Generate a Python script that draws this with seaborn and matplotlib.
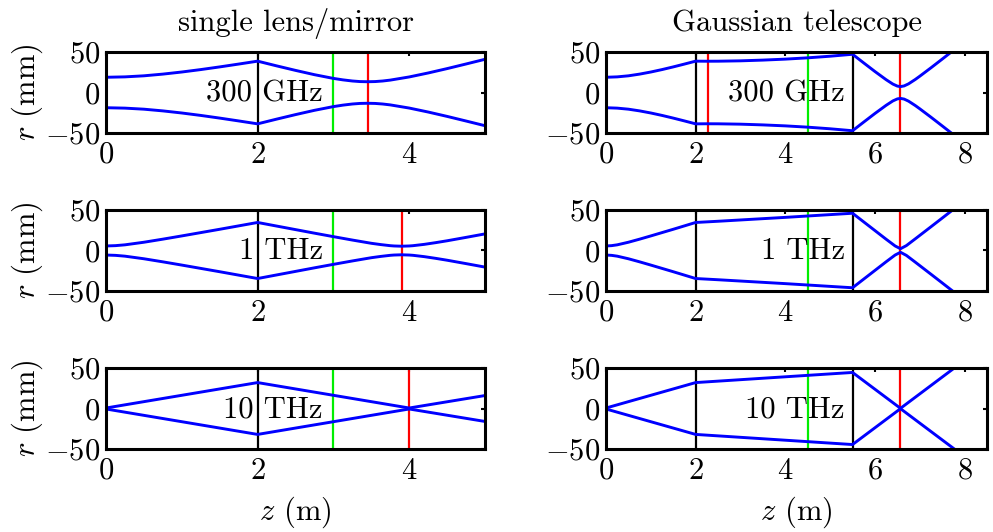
import matplotlib
matplotlib.use("Agg")
import matplotlib.pyplot as plt
from matplotlib.ticker import FuncFormatter
import seaborn as sns
import pandas as pd

# ---- beam radius r (mm) versus distance z (m) -------------------------------
# single lens/mirror: lens at z = 2 m
z_single_300g = [0.0, 0.25, 0.5, 0.75, 1.0, 1.25, 1.5, 1.75, 2.0,
                 2.25, 2.5, 2.75, 3.0, 3.125, 3.25, 3.35, 3.45, 3.55, 3.65,
                 3.75, 4.0, 4.25, 4.5, 4.75, 5.0]
r_single_300g = [18.8, 19.3, 20.6, 22.7, 25.3, 28.3, 31.6, 35.1, 38.7,
                 32.9, 27.3, 22.0, 17.4, 15.6, 14.2, 13.5, 13.3, 13.5, 14.2,
                 15.3, 19.2, 24.1, 29.5, 35.2, 41.0]

z_single_1t = [0.0, 0.125, 0.25, 0.5, 0.75, 1.0, 1.25, 1.5, 1.75, 2.0,
               2.25, 2.5, 2.75, 3.0, 3.25, 3.5, 3.625, 3.75, 3.8, 3.9, 4.0,
               4.05, 4.2, 4.35, 4.5, 4.75, 5.0]
r_single_1t = [5.6, 6.0, 7.0, 10.2, 14.0, 18.0, 22.1, 26.2, 30.4, 34.6,
               30.2, 25.8, 21.4, 17.1, 12.9, 8.9, 7.3, 5.95, 5.6, 5.3, 5.6,
               5.95, 7.6, 9.7, 12.0, 16.2, 20.5]

z_single_10t = [0.0, 2.0, 4.0, 5.0]
r_single_10t = [0.6, 32.0, 0.6, 16.0]

# Gaussian telescope: lenses at z = 2 m and z = 5.5 m
z_tele_300g = [0.0, 0.25, 0.5, 0.75, 1.0, 1.25, 1.5, 1.75, 2.0,
               2.25, 2.5, 3.0, 3.5, 4.0, 4.5, 5.0, 5.5,
               5.75, 6.0, 6.25, 6.4, 6.5, 6.57, 6.65, 6.75, 6.9, 7.0,
               7.25, 7.5, 7.75, 8.0]
r_tele_300g = [18.8, 19.3, 20.6, 22.7, 25.3, 28.3, 31.6, 35.1, 38.7,
               38.6, 38.65, 39.1, 40.0, 41.2, 42.8, 44.8, 47.2,
               36.5, 25.9, 15.8, 10.4, 7.9, 7.3, 8.1, 10.7, 16.1, 20.1,
               30.5, 41.2, 52.0, 62.8]

z_tele_1t = [0.0, 0.125, 0.25, 0.5, 0.75, 1.0, 1.25, 1.5, 1.75, 2.0,
             2.5, 3.0, 3.5, 4.0, 4.5, 5.0, 5.5,
             6.0, 6.25, 6.45, 6.57, 6.7, 6.9, 7.25, 7.5, 7.75, 8.0]
r_tele_1t = [5.6, 6.0, 7.0, 10.2, 14.0, 18.0, 22.1, 26.2, 30.4, 34.6,
             36.1, 37.7, 39.3, 40.9, 42.6, 44.3, 46.0,
             24.6, 13.9, 5.6, 2.2, 6.0, 14.4, 29.3, 40.0, 50.75, 61.5]

z_tele_10t = [0.0, 2.0, 5.5, 6.57, 8.0]
r_tele_10t = [0.6, 32.0, 44.5, 0.2, 59.5]

# optical elements and reference planes (m)
lens_single = [2.0]
lens_tele = [2.0, 5.5]
green_single = 3.0
green_tele = 4.5
red_single = [[3.45], [3.9], [4.0]]
red_tele = [[2.27, 6.57], [6.57], [6.57]]

freq_labels = ["300 GHz", "1 THz", "10 THz"]
titles = ["single lens/mirror", "Gaussian telescope"]
xticks_single = [0, 2, 4]
xticks_tele = [0, 2, 4, 6, 8]
yticks = [-50, 0, 50]

single = [(z_single_300g, r_single_300g), (z_single_1t, r_single_1t),
          (z_single_10t, r_single_10t)]
tele = [(z_tele_300g, r_tele_300g), (z_tele_1t, r_tele_1t),
        (z_tele_10t, r_tele_10t)]

# ---- style -------------------------------------------------------------------
FS = 22
sns.set_style("white")
plt.rcParams.update({
    "font.family": ["cmr10", "DejaVu Serif"],
    "mathtext.fontset": "cm",
    "axes.formatter.use_mathtext": True,
    "font.size": FS,
    "text.color": "black",
    "axes.labelcolor": "black",
    "axes.titlecolor": "black",
    "axes.linewidth": 2.2,
    "axes.edgecolor": "black",
    "xtick.direction": "in",
    "ytick.direction": "in",
    "xtick.top": True,
    "ytick.right": True,
    "xtick.major.size": 3,
    "ytick.major.size": 3,
    "xtick.major.width": 1.5,
    "ytick.major.width": 1.5,
    "xtick.color": "black",
    "ytick.color": "black",
    "xtick.labelcolor": "black",
    "ytick.labelcolor": "black",
})

math_fmt = FuncFormatter(lambda v, pos: f"${v:g}$")

fig = plt.figure(figsize=(9.93, 5.32), dpi=100)
fig.patch.set_facecolor("white")

col_left = [106 / 993, 606 / 993]
col_width = [379 / 993, 381 / 993]
row_bottom = [1 - 133 / 532, 1 - 291 / 532, 1 - 449 / 532]
row_height = 81 / 532

for col, (curves, xmax, xticks, lenses, green, reds, label_x) in enumerate([
        (single, 5.0, xticks_single, lens_single, green_single, red_single, 2.86),
        (tele, 8.5, xticks_tele, lens_tele, green_tele, red_tele, 5.33)]):
    for row in range(3):
        ax = fig.add_axes([col_left[col], row_bottom[row],
                           col_width[col], row_height])
        z, r = curves[row]
        df = pd.DataFrame({"z": z, "r": r})
        df["r_low"] = -df["r"]

        for zl in lenses:
            ax.axvline(zl, color="black", lw=1.6, zorder=2)
        ax.axvline(green, color="#00ee00", lw=1.6, zorder=2)
        for zr in reds[row]:
            ax.axvline(zr, color="red", lw=1.6, zorder=2)

        sns.lineplot(data=df, x="z", y="r", ax=ax, color="#0000ff",
                     lw=2.1, estimator=None, sort=False, zorder=3)
        sns.lineplot(data=df, x="z", y="r_low", ax=ax, color="#0000ff",
                     lw=2.1, estimator=None, sort=False, zorder=3)

        ax.text(label_x, -1.5, freq_labels[row], ha="right", va="center",
                fontsize=FS, color="black", zorder=4)

        ax.set_xlim(0, xmax)
        ax.set_ylim(-50, 50)
        ax.set_xticks(xticks)
        ax.set_yticks(yticks)
        ax.xaxis.set_major_formatter(math_fmt)
        ax.yaxis.set_major_formatter(math_fmt)
        ax.tick_params(axis="x", labelsize=FS, pad=6)
        ax.tick_params(axis="y", labelsize=FS, pad=4)
        ax.set_xlabel("")
        ax.set_ylabel("")
        for s in ax.spines.values():
            s.set_visible(True)
            s.set_linewidth(2.2)
            s.set_zorder(5)

        if col == 0:
            ax.set_ylabel(r"$r$ (mm)", fontsize=FS, labelpad=0)
        if row == 0:
            ax.set_title(titles[col], fontsize=FS, pad=15)
        if row == 2:
            ax.set_xlabel(r"$z$ (m)", fontsize=FS, labelpad=7)

fig.savefig("out.png", dpi=100, facecolor="white")
